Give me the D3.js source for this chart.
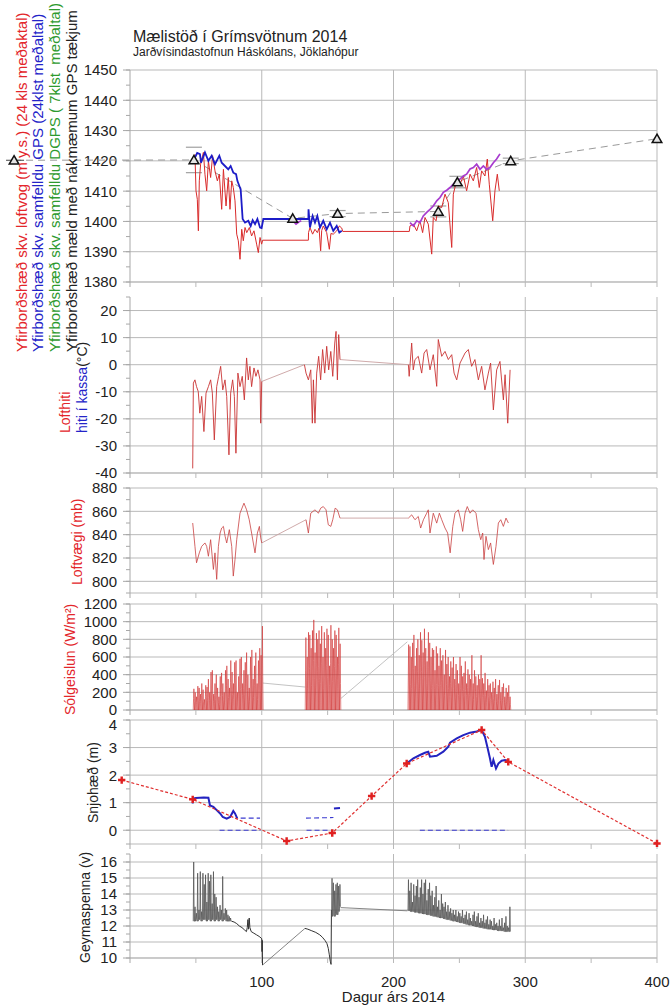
<!DOCTYPE html>
<html>
<head>
<meta charset="utf-8">
<script src="https://cdn.jsdelivr.net/npm/d3@7"></script>
<style>
  body { margin: 0; background: #fff; }
  svg { display: block; font-family: "Liberation Sans", Arial, sans-serif; }
</style>
</head>
<body>
<div id="chart"></div>
<script>
// ---------------- data (day of year 2014) ----------------

// GPS point measurements (triangles) + error bar half widths
var gpsDays = [-88, 48.5, 123.5, 157.6, 234, 248.5, 289, 400];
var gpsElev = [1420.2, 1420.3, 1401, 1402.6, 1403.3, 1413, 1420, 1427.3];
var gpsErr  = [0, 4.2, 0, 1, 1.8, 1.9, 0.9, 0];

// surface elevation from barometer (24 h mean)
var baroElev = [
  [49.3,1422.2],[50.1,1410.1],[51.1,1407.3],[51.9,1396.9],[52.6,1413.4],[53.6,1418.9],[55.7,1422.8],
  [56.9,1415.6],[58.2,1410.1],[59.5,1420],[61.2,1414.5],[62.7,1421.7],[64.5,1416.7],[66.3,1413.4],
  [67.8,1415.6],[69.6,1404],[70.9,1417.2],[72.9,1405.1],[74.6,1414.5],[75.9,1404],[77.2,1413.4],
  [78.4,1411.2],[79.7,1406.8],[81,1395.8],[82.2,1393.6],[83.5,1387.5],[84.8,1397.4],[86,1393.6],
  [87.3,1398],[88.6,1396.3],[90.6,1398],[92.3,1395.2],[94.1,1396.9],[96.1,1392.5],[97.4,1389.7],
  [98.7,1394.7],[99.9,1392.5],[100.7,1393.8],[135.4,1393.8],[135.5,1396.3],[136.6,1398],[138.6,1395.8],
  [140.4,1397.4],[142.2,1396.3],[143.5,1397.8],[144.7,1390.3],[145.5,1397],[146.7,1398.5],[149.3,1396.3],
  [151.3,1390.8],[152.5,1396],[154.3,1395.8],[156.9,1396.9],[158.9,1398.5],[160.7,1397.8],[161.5,1396.7],
  [212,1396.7],[212.5,1398.5],[215.1,1399.1],[217.6,1396.9],[220.1,1400.2],[222.1,1396.3],[223.9,1401.3],
  [226.4,1399.1],[229,1389.2],[230.2,1401.3],[232.3,1400.2],[234,1405.1],[236.6,1404.6],[239.1,1409],
  [241.6,1406.2],[244.2,1391.4],[245.4,1409],[247.9,1413.4],[250.5,1412.3],[253,1415],[255.5,1410.1],
  [258.1,1415.6],[260.6,1413.4],[263.1,1417.8],[265.1,1411.2],[266.9,1416.7],[269.4,1415],[271.2,1420.6],
  [272.7,1412.3],[275.3,1400.2],[277,1410.1],[278.8,1415.6],[280.3,1410.1]
];

// surface elevation from continuous GPS (24 h mean)
var gpsContElev = [
  [49.3,1421.1],[51,1422.6],[53.1,1422.2],[53.9,1419.4],[56.9,1422.8],[59.5,1420],[62,1421.7],
  [64.5,1418.9],[67.8,1421.7],[69.6,1419.4],[72.1,1418.3],[74.6,1417.2],[76.4,1418.3],[78.4,1416.1],
  [80.5,1415.6],[81.5,1413.4],[83,1411.7],[84,1410.6],[85.5,1400.8],[87.3,1399.6],[89.8,1400.2],
  [91.6,1398.5],[93.1,1400.4],[94.9,1399.1],[96.7,1400.8],[98.7,1398],[99.9,1397.8],[101.2,1400.8],
  [135.4,1400.8],[135.5,1404],[136.6,1398],[138.6,1401.8],[140.4,1399.6],[142.2,1401.8],[144.2,1398],
  [146.7,1400.2],[149.3,1397.4],[151.8,1399.6],[154.3,1396.9],[156.9,1398.5],[158.9,1396.3],[160.7,1396.9]
];

// surface elevation from DGPS (7 h mean)
var dgpsElevA = [[124.5,1399.8],[126,1399.1],[128,1399.8],[130,1400.2]];
var dgpsElevB = [
  [212.5,1399.6],[215.1,1398.5],[217.6,1400.2],[220.1,1399.6],[222.6,1401.8],[225.2,1403],[227.7,1404],
  [230.2,1405.1],[232.8,1406.8],[235.3,1407.9],[237.8,1409.6],[240.4,1410.3],[242.9,1411.2],[245.4,1412.3],
  [247.9,1413.4],[250.5,1414],[253,1415],[255.5,1415.6],[258.1,1417.3],[260.6,1417.8],[263.1,1418.9],
  [265.7,1417.2],[268.2,1418.3],[270.7,1417.2],[273.2,1417.8],[275.8,1419.4],[278.3,1420.6],[280.8,1422.3]
];

// air temperature (°C)
var tempSegs = [
  [[47.6,-38.3],[48.1,-6.8],[49.3,-5.6],[50.5,-8.1],[51.8,-9.9],[53,-17.9],[54.4,-11.7],[56.1,-24.7],
   [57.7,-10.5],[59.5,-8.1],[61.2,-5.6],[62.5,-10.5],[64,-27.8],[65.8,-8.1],[67.3,-4.3],[68.8,-0.6],
   [70.4,-9.3],[72.1,-5.6],[73.4,-11.7],[75.1,-33.3],[76.4,-10.5],[77.9,-5.6],[79.2,-11.7],[80.4,-32.7],
   [81.9,-3.1],[83.5,-8.1],[85.2,-4.3],[86.8,-13],[88.5,2.5],[89.8,-5.6],[91,-0.6],[92.3,-8.1],
   [94.1,-1.2],[95.6,-4.3],[97.1,-1.9],[98.7,-5.6],[99.2,-21.6],[100,-6.2]],
  [[132.4,0],[133.6,-3.1],[135.4,-5.6],[137.2,-1.9],[138.4,-21.6],[139.2,-5.6],[140.4,-21.6],[141.7,-3.1],
   [143.2,3.1],[144.7,-5.6],[146.2,5.6],[147.8,-3.1],[149.3,6.8],[150.8,-1.9],[152.4,4.9],[153.9,-4.3],
   [155.4,8],[156.4,12.3],[157.4,-5.6],[158.4,11.1],[159.4,1.9]],
  [[211.3,0],[211.9,-4.3],[213.8,8],[215,-1.9],[216.3,1.9],[218.8,3.1],[221.4,-3.1],[223.2,4.3],
   [225.2,5.6],[227.7,-1.9],[230.2,3.7],[232.8,-8],[234,9.3],[236.6,3.1],[239.1,4.9],[241.6,1.9],
   [244.2,3.7],[246,-3.1],[248,-5.6],[250.5,0.6],[254.3,4.3],[256.8,5.6],[259.3,-0.6],[261.8,1.9],
   [264.4,-5.6],[266.9,-0.6],[269.4,-9.3],[272,-3.1],[273.7,0.6],[275.8,-16.7],[278.3,-1.9],[280.8,1.2],
   [283.4,-13],[284.7,-3.7],[286.7,-21.6],[288.5,-1.9]]
];

// air pressure (mb)
var presSegs = [
  [[47.6,850],[49.3,830],[50.5,815.9],[52.6,824.4],[54.4,830],[56.9,832.9],[58.2,830],[59.5,821.5],
   [61.2,835.7],[63.3,810.2],[64.5,824.4],[65.8,801.7],[67.1,830],[68.4,841.4],[69.6,845.7],[70.9,847.1],
   [72.2,838.6],[73.4,832.9],[75.4,844.3],[77.2,830],[78.4,804.5],[79.7,818.7],[81,835.7],[83.5,858.4],
   [86.5,867],[88.5,861.3],[90.5,852.8],[92.3,841.4],[94.9,824.4],[96.7,841.4],[98.2,847.1],[99.2,837.2],
   [100,832.9]],
  [[133.6,852.8],[135.4,841.4],[137.2,858.4],[140.4,861.3],[143,858.4],[144.7,862.7],[146.7,864.1],
   [148.8,861.3],[150.5,848.5],[152.4,847.1],[153.9,852.8],[155.7,862.7],[157.4,861.3],[159.4,854.2]],
  [[211.3,854.2],[213.8,857],[216.3,852.8],[218.8,855.6],[220.6,845.7],[222.7,852.8],[225.2,858.4],
   [226.4,861.3],[227.7,841.4],[230.2,858.4],[232.8,849.9],[234.8,858.4],[236.6,852.8],[239.1,845.7],
   [241.1,841.4],[243,824.4],[245,847.1],[246.7,858.4],[249.2,861.3],[251,852.8],[252.5,842.8],
   [254.3,858.4],[256,864.1],[258.1,858.4],[260.1,861.3],[262.6,858.4],[264.4,844.3],[266.2,835.7],
   [267.7,841.4],[268.7,818.7],[270.2,838.6],[272,827.2],[273.7,832.9],[275.8,814.5],[277.8,830],
   [279.6,850],[281.4,852.8],[283.4,847.1],[285.4,854.2],[287.2,850]]
];

// daily peak solar radiation (W/m2), three logger periods
var sunStart = [48, 133, 211];
var sunPeaks = [
  [240,200,150,270,250,180,300,230,120,280, 260,350,200,430,450,180,300,400,250,150,
   380,420,300,200,450,500,350,250,560,430, 300,540,560,200,380,580,600,300,450,540,
   650,400,250,600,680,350,500,650,300,560, 700,620,950],
  [820,600,880,850,700,900,1020,650,870,800, 900,750,950,600,880,700,920,850,500,960,
   800,700,900,850,600,930,750],
  [740,720,600,760,850,500,700,800,620,880, 790,650,920,700,550,880,760,600,700,680,
   450,720,640,500,700,560,620,400,680,520, 600,380,550,480,600,350,520,450,300,600,
   500,380,420,550,300,460,400,350,620,300, 450,380,280,400,350,620,360,300,420,220,
   350,280,300,200,320,250,350,180,280,340, 200,260,300,150,250,200,280,150]
];
var sunGaps = [[[100.8,305],[133,260]], [[160,130],[210.5,772]]];

// snow depth (m): stake readings and sonic ranger
var stakeDays  = [-6.3, 47.6, 118.9, 153.5, 183.4, 210, 266.9, 287.1, 400];
var stakeDepth = [1.82, 1.12, -0.39, -0.1, 1.24, 2.42, 3.64, 2.48, -0.48];
var sonicLines = [
  [[47.6,0.97],[48,1.15],[50,1.17],[53,1.18],[56,1.19],[59.5,1.18],[60.7,0.9],[63.3,0.85],[65.8,0.73],
   [68.4,0.61],[70.4,0.48],[73.4,0.42],[76,0.48],[78.4,0.7],[79.7,0.61],[81.5,0.42]],
  [[154.8,0.79],[159.4,0.81]],
  [[210,2.42],[215.1,2.61],[220.1,2.73],[223.9,2.81],[226.4,2.85],[227.7,2.67],[232.8,2.7],[237.8,2.85],
   [241.6,3.03],[242.9,3.18],[248,3.33],[253,3.45],[258.1,3.54],[263.1,3.58],[266.9,3.64],[269.4,3.39],
   [271.2,3.03],[273.2,2.61],[274.5,2.3],[275.8,2.55],[277.8,2.24],[279.6,2.42],[282.1,2.52],
   [284.7,2.55],[287.2,2.48]]
];
var sonicDashed = [
  [[84,0.44],[98.7,0.44]], [[68,0],[99,0]],
  [[133.6,0.44],[154.4,0.46]], [[134,0],[152,0]],
  [[220,0],[287,0]]
];

// battery voltage (V)
var batStart = [48, 153, 211];
var batPeaks = [
  [16,13.2,12.8,15.3,13,15.4,12.9,15.3,14.6,15.2, 13.5,15.3,14.8,15.2,13.4,15.4,14,13.8,13.2,12.9,
   13.3,13,15.1,12.8,13.1,13,12.7,12.6,12.5],
  [14.98,14.7,14.2,14.6,14.7,14.5,14.6],
  [14.9,14.2,14.7,13.5,14.6,13.9,14.5,14.9,13.8,14.4, 14.9,14,14.7,14.9,13.6,14.3,14.7,13.9,14.2,13.3,
   13.8,14.5,13.2,13.6,13,14,13.4,13.2,13.5,12.9, 13.3,12.9,13.1,12.8,13,12.7,13,12.6,12.9,12.8,
   12.6,13,12.5,12.7,12.9,12.4,12.8,12.5,12.3,12.7, 12.9,12.3,12.6,12.8,12.2,12.5,12.3,12.7,12.2,12.4,
   12.6,12.1,12.4,12.3,12,12.5,12.1,12.2,12,12.4, 12,12.5,11.9,12.2,12.6,12,11.9,13.2]
];
var batBase = [
  [12.3,12.3,12.4,12.3,12.4,12.4,12.3,12.4,12.4,12.4, 12.3,12.4,12.4,12.3,12.4,12.4,12.3,12.4,12.4,12.3,
   12.4,12.4,12.3,12.4,12.4,12.3,12.3,12.3,12.3],
  [12.6,12.7,12.6,12.8,12.7,12.9,13.2],
  [12.95,12.95,12.9,12.9,12.9,12.85,12.85,12.85,12.8,12.8, 12.8,12.75,12.75,12.75,12.7,12.7,12.7,12.65,12.65,12.6,
   12.6,12.6,12.55,12.55,12.5,12.5,12.5,12.45,12.45,12.4, 12.4,12.4,12.35,12.35,12.3,12.3,12.3,12.25,12.25,12.2,
   12.2,12.2,12.15,12.15,12.1,12.1,12.05,12.05,12.05,12, 12,11.95,11.95,11.95,11.9,11.9,11.9,11.85,11.85,11.85,
   11.8,11.8,11.8,11.8,11.75,11.75,11.75,11.75,11.7,11.7, 11.7,11.7,11.7,11.65,11.65,11.65,11.65,11.65]
];
var batDecline = [
  [[77,12.3],[79,12.25],[81,12.15],[83,12],[85,11.9],[87,11.75],[88.4,11.65],[89,11.9],[89.5,12.4],
   [90,11.8],[90.5,12.5],[91,11.9],[92,11.65],[94,11.55],[96,11.45],[98,11.35],[99.5,11.25],[100,11.2],
   [100.2,10.4],[100.4,11.1],[100.6,9.56]],
  [[132.8,11.85],[135,11.8],[138,11.7],[141,11.6],[144,11.45],[146,11.3],[148,11.1],[149.5,10.9],
   [150.5,10.6],[151.3,10.2],[152,9.8],[152.6,9.6],[152.9,13]]
];
var batGaps = [[[100.6,9.56],[132.8,11.85]], [[159.8,13.15],[210.5,12.95]]];

var xTicks = [100, 200, 300, 400];

// ---------------- layout ----------------
var svgWidth = 670;
var svgHeight = 1005;
var plotLeft = 130;
var plotRight = 657;

var svg = d3.select("#chart")
  .append("svg")
  .attr("width", svgWidth)
  .attr("height", svgHeight);

var x = d3.scaleLinear().domain([0, 400]).range([plotLeft, plotRight]);

// labelShift nudges single tick labels that sit tight against the next panel
var panels = {
  elev: { domain: [1380, 1450], range: [282, 70], ticks: d3.range(1380, 1451, 10), minor: 5 },
  temp: { domain: [-40, 25], range: [473, 297], ticks: d3.range(-40, 21, 10), minor: 5 },
  pres: { domain: [790, 880], range: [593, 488], ticks: d3.range(800, 881, 20), minor: 10 },
  sun:  { domain: [0, 1200], range: [710, 604], ticks: d3.range(0, 1201, 200), minor: 100 },
  snow: { domain: [-0.5, 4], range: [844, 720], ticks: d3.range(0, 5, 1), minor: 0.5, labelShift: { 4: 5 } },
  bat:  { domain: [10, 16.5], range: [958, 854], ticks: d3.range(10, 17, 1), minor: 0.5 }
};

var gridColor = "#b9b9b9";
var textColor = "#222";

// draw frame, grid and ticks for one panel
function drawPanel(p) {
  p.y = d3.scaleLinear().domain(p.domain).range(p.range);
  var g = svg.append("g");
  var top = p.range[1], bottom = p.range[0];
  var shift = p.labelShift || {};

  // horizontal grid
  g.selectAll("line.h")
    .data(p.ticks.concat([p.domain[0]]))
    .enter().append("line")
    .attr("x1", plotLeft).attr("x2", plotRight)
    .attr("y1", d => p.y(d)).attr("y2", d => p.y(d))
    .attr("stroke", gridColor).attr("stroke-width", 1);

  // vertical grid + major x ticks
  g.selectAll("line.v")
    .data(xTicks)
    .enter().append("line")
    .attr("x1", d => x(d)).attr("x2", d => x(d))
    .attr("y1", top).attr("y2", bottom + 5)
    .attr("stroke", gridColor).attr("stroke-width", 1);

  // minor x ticks
  g.selectAll("line.mx")
    .data([50, 150, 250, 350])
    .enter().append("line")
    .attr("x1", d => x(d)).attr("x2", d => x(d))
    .attr("y1", bottom).attr("y2", bottom + 5)
    .attr("stroke", gridColor);

  // left axis
  g.append("line")
    .attr("x1", plotLeft).attr("x2", plotLeft)
    .attr("y1", top).attr("y2", bottom + 5)
    .attr("stroke", "#a8a8a8");

  // y ticks
  var minorTicks = d3.range(p.domain[0], p.domain[1] + 1e-9, p.minor);
  g.selectAll("line.my")
    .data(minorTicks)
    .enter().append("line")
    .attr("x1", plotLeft - 4).attr("x2", plotLeft)
    .attr("y1", d => p.y(d)).attr("y2", d => p.y(d))
    .attr("stroke", "#a8a8a8");
  g.selectAll("line.ty")
    .data(p.ticks)
    .enter().append("line")
    .attr("x1", plotLeft - 7).attr("x2", plotLeft)
    .attr("y1", d => p.y(d)).attr("y2", d => p.y(d))
    .attr("stroke", "#a8a8a8");

  g.selectAll("text")
    .data(p.ticks)
    .enter().append("text")
    .attr("x", 117)
    .attr("y", d => p.y(d) + (shift[d] || 0))
    .attr("dy", "0.36em")
    .attr("text-anchor", "end")
    .attr("font-size", "15px")
    .attr("fill", textColor)
    .text(d => String(d));
}

Object.keys(panels).forEach(k => drawPanel(panels[k]));

function lineFor(p) {
  return d3.line().x(d => x(d[0])).y(d => p.y(d[1]));
}

// ---------------- panel 1: surface elevation ----------------
var pe = panels.elev;
var elevLine = lineFor(pe);
var gpsPts = gpsDays.map((d, i) => [d, gpsElev[i], gpsErr[i]]);

svg.append("path")
  .attr("d", elevLine(gpsPts))
  .attr("fill", "none")
  .attr("stroke", "#9a9a9a")
  .attr("stroke-width", 1)
  .attr("stroke-dasharray", "7,5");

// short solid line through the off-axis measurement at the left
svg.append("line")
  .attr("x1", x(gpsDays[0]) - 8).attr("x2", x(gpsDays[0]) + 10)
  .attr("y1", pe.y(gpsElev[0])).attr("y2", pe.y(gpsElev[0]))
  .attr("stroke", "#444").attr("stroke-width", 1);

// error bar caps
gpsPts.filter(d => d[2] > 0).forEach(function(d) {
  [d[1] - d[2], d[1] + d[2]].forEach(function(v) {
    svg.append("line")
      .attr("x1", x(d[0]) - 8).attr("x2", x(d[0]) + 8)
      .attr("y1", pe.y(v)).attr("y2", pe.y(v))
      .attr("stroke", "#a0a0a0").attr("stroke-width", 1.2);
  });
});

svg.append("path")
  .attr("d", elevLine(baroElev))
  .attr("fill", "none")
  .attr("stroke", "#d92b2b")
  .attr("stroke-width", 1);

svg.append("path")
  .attr("d", elevLine(gpsContElev))
  .attr("fill", "none")
  .attr("stroke", "#1c1cc8")
  .attr("stroke-width", 1.8);

[dgpsElevA, dgpsElevB].forEach(function(seg) {
  svg.append("path")
    .attr("d", elevLine(seg))
    .attr("fill", "none")
    .attr("stroke", "#a83ccf")
    .attr("stroke-width", 1.7);
});

svg.selectAll("path.tri")
  .data(gpsPts)
  .enter().append("path")
  .attr("d", d3.symbol(d3.symbolTriangle, 40))
  .attr("transform", d => `translate(${x(d[0])}, ${pe.y(d[1]) + 1})`)
  .attr("fill", "#e4e4e4")
  .attr("stroke", "#111")
  .attr("stroke-width", 1.5);

// ---------------- panels 2-3: temperature and pressure ----------------
function drawSegs(p, segs, color, width, gapColor) {
  var ln = lineFor(p);
  for (var i = 0; i < segs.length - 1; i++) {
    var a = segs[i][segs[i].length - 1], b = segs[i + 1][0];
    svg.append("path").attr("d", ln([a, b]))
      .attr("fill", "none").attr("stroke", gapColor).attr("stroke-width", 0.9);
  }
  segs.forEach(function(seg) {
    svg.append("path").attr("d", ln(seg))
      .attr("fill", "none").attr("stroke", color).attr("stroke-width", width)
      .attr("stroke-linejoin", "round");
  });
}

drawSegs(panels.temp, tempSegs, "#c93333", 0.9, "#c9a0a0");
drawSegs(panels.pres, presSegs, "#c94040", 0.8, "#c9a0a0");

// ---------------- panel 4: solar radiation ----------------
var ps = panels.sun;
var sunLine = lineFor(ps);
sunGaps.forEach(function(gp) {
  svg.append("path").attr("d", sunLine(gp))
    .attr("fill", "none").attr("stroke", "#bbb").attr("stroke-width", 0.9);
});
sunPeaks.forEach(function(peaks, s) {
  var pts = [];
  peaks.forEach(function(v, i) {
    var day = sunStart[s] + i;
    pts.push([day, 0], [day + 0.25, v * 0.55], [day + 0.5, v], [day + 0.75, v * 0.4]);
  });
  pts.push([sunStart[s] + peaks.length, 0]);
  svg.append("path").attr("d", sunLine(pts))
    .attr("fill", "none").attr("stroke", "#d03030").attr("stroke-width", 0.7)
    .attr("opacity", 0.85);
});

// ---------------- panel 5: snow depth ----------------
var pn = panels.snow;
var snowLine = lineFor(pn);
var stakePts = stakeDays.map((d, i) => [d, stakeDepth[i]]);

sonicDashed.forEach(function(seg) {
  svg.append("path").attr("d", snowLine(seg))
    .attr("fill", "none").attr("stroke", "#3a3ad0").attr("stroke-width", 1.1)
    .attr("stroke-dasharray", "5,3");
});
sonicLines.forEach(function(seg) {
  svg.append("path").attr("d", snowLine(seg))
    .attr("fill", "none").attr("stroke", "#2323c0").attr("stroke-width", 2);
});

svg.append("path")
  .attr("d", snowLine(stakePts))
  .attr("fill", "none")
  .attr("stroke", "#e03030")
  .attr("stroke-width", 1.2)
  .attr("stroke-dasharray", "3,2");

svg.selectAll("path.plus")
  .data(stakePts)
  .enter().append("path")
  .attr("d", d3.symbol(d3.symbolCross, 30))
  .attr("transform", d => `translate(${x(d[0])}, ${pn.y(d[1])})`)
  .attr("fill", "#e02020");

// ---------------- panel 6: battery voltage ----------------
var pb = panels.bat;
var batLine = lineFor(pb);
batGaps.forEach(function(gp) {
  svg.append("path").attr("d", batLine(gp))
    .attr("fill", "none").attr("stroke", "#777").attr("stroke-width", 0.9);
});
batDecline.forEach(function(seg) {
  svg.append("path").attr("d", batLine(seg))
    .attr("fill", "none").attr("stroke", "#333").attr("stroke-width", 1);
});
batPeaks.forEach(function(peaks, s) {
  var base = batBase[s];
  var pts = [];
  peaks.forEach(function(v, i) {
    var day = batStart[s] + i;
    pts.push([day, base[i]], [day + 0.35, v], [day + 0.7, base[i]]);
  });
  svg.append("path").attr("d", batLine(pts))
    .attr("fill", "none").attr("stroke", "#555").attr("stroke-width", 0.8);
});

// ---------------- titles and axis labels ----------------
svg.append("text")
  .attr("x", 133).attr("y", 42)
  .attr("font-size", "16px").attr("fill", textColor)
  .text("Mælistöð í Grímsvötnum 2014");
svg.append("text")
  .attr("x", 133).attr("y", 56)
  .attr("font-size", "12px").attr("fill", textColor)
  .text("Jarðvísindastofnun Háskólans, Jöklahópur");

svg.selectAll("text.xt")
  .data(xTicks)
  .enter().append("text")
  .attr("x", d => x(d)).attr("y", 987)
  .attr("text-anchor", "middle")
  .attr("font-size", "15px").attr("fill", textColor)
  .text(d => d);

svg.append("text")
  .attr("x", (plotLeft + plotRight) / 2).attr("y", 1002)
  .attr("text-anchor", "middle")
  .attr("font-size", "15px").attr("fill", textColor)
  .text("Dagur árs 2014");

// rotated y labels: [x of baseline, start y, font size, parts]
var red = "#e3262b", blue = "#2323c8", green = "#2e9a2e";
var yLabels = [
  [27, 352, 15, [["Yfirborðshæð skv. loftvog (m y.s.) (24 kls meðaktal)", red]]],
  [43, 352, 15, [["Yfirborðshæð skv. samfelldu GPS (24klst meðaltal)", blue]]],
  [60, 352, 15, [["Yfirborðshæð skv. samfelldu DGPS ( 7klst  meðaltal)", green]]],
  [77, 352, 15, [["Yfirborðshæð mæld með nákmæmum GPS tækjum", textColor]]],
  [70, 433, 14, [["Lofthiti", red]]],
  [87, 433, 14, [["hiti í kassa", blue], ["(°C)", textColor]]],
  [82, 585, 14, [["Loftvægi (mb)", red]]],
  [75, 715, 14, [["Sólgeislun (W/m²)", red]]],
  [98, 823, 14, [["Snjohæð (m)", textColor]]],
  [90, 963, 14, [["Geymaspenna (v)", textColor]]]
];

yLabels.forEach(function(l) {
  var t = svg.append("text")
    .attr("transform", `translate(${l[0]}, ${l[1]}) rotate(-90)`)
    .attr("font-size", l[2] + "px")
    .attr("xml:space", "preserve");
  l[3].forEach(function(part) {
    t.append("tspan").attr("fill", part[1]).text(part[0]);
  });
});
</script>
</body>
</html>
